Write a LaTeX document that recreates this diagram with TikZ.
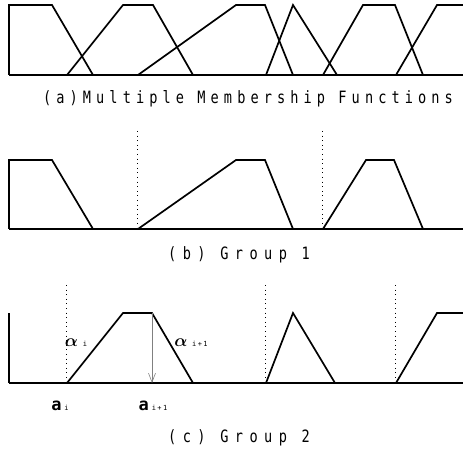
\documentclass[tikz,border=0pt]{standalone}
\usepackage{amsmath,amssymb}
\usepackage{fontspec}
\usetikzlibrary{arrows.meta}
\newfontfamily\capfontA{DejaVu Sans Mono}[FakeStretch=0.8, LetterSpace=30]
\newfontfamily\capfontB{DejaVu Sans Mono}[FakeStretch=0.8, LetterSpace=38]
\newfontfamily\labfont{DejaVu Sans Mono}[LetterSpace=20]
\begin{document}
\begin{tikzpicture}[x=1pt, y=-1pt,
  mf/.style={line width=1.7pt, line join=miter},
  axis/.style={line width=2.2pt},
  guide/.style={line width=1pt, dash pattern=on 1pt off 3.6pt},
  caption/.style={inner sep=0pt},
  greek/.style={inner sep=0pt, font=\fontsize{17}{17}\selectfont},
  lab/.style={inner sep=0pt, font=\labfont\fontsize{17}{17}\selectfont\bfseries}]
\useasboundingbox (0,0) rectangle (463,454);
% (a) all membership functions
\draw[axis] (9,75) -- (463,75);
\draw[mf] (9,75) -- (9,5) -- (52,5) -- (93,75);
\draw[mf] (67,75) -- (123,5) -- (153,5) -- (193,75);
\draw[mf] (138,75) -- (236,5) -- (265,5) -- (293,75);
\draw[mf] (266,75) -- (293,5) -- (337,75);
\draw[mf] (323,75) -- (363,5) -- (395,5) -- (423,75);
\draw[mf] (396,75) -- (437,5) -- (463,5);
\node[caption] (capa) at (248,99) {\capfontA\fontsize{17}{17}\selectfont (a)Multiple Membership Functions};
% (b) group 1
\draw[axis] (9,229) -- (463,229);
\draw[guide] (137,131) -- (137,229);
\draw[guide] (322,131) -- (322,229);
\draw[mf] (9,229) -- (9,160) -- (52,160) -- (93,229);
\draw[mf] (138,229) -- (236,160) -- (265,160) -- (293,229);
\draw[mf] (323,229) -- (366,160) -- (394,160) -- (423,229);
\node[caption] (capb) at (239,255) {\capfontB\fontsize{17}{17}\selectfont (b) Group 1};
% (c) group 2
\draw[axis] (9,383) -- (463,383);
\draw[mf] (9,383) -- (9,313);
\foreach \gx in {66,265,395}
  \draw[guide] (\gx,285) -- (\gx,383);
\draw[mf] (67,383) -- (123,313) -- (152,313) -- (193,383);
\draw[mf] (266,383) -- (293,313) -- (335,383);
\draw[mf] (396,383) -- (437,313) -- (463,313);
\coordinate (top) at (152,313);
\coordinate (foot) at (152,383);
\draw[gray, line width=0.6pt, -{Straight Barb[length=9pt,width=7pt]}] (top) -- (foot);
\node[greek] (alf1) at (76,343) {$\boldsymbol{\alpha}$\;{\labfont\fontsize{7}{7}\selectfont i}};
\node[greek] (alf2) at (191,343) {$\boldsymbol{\alpha}$\;{\labfont\fontsize{7}{7}\selectfont i+1}};
\node[lab] (ai) at (60,406) {a\,{\mdseries\fontsize{7}{7}\selectfont i}};
\node[lab] (aj) at (153,406) {a\,{\mdseries\fontsize{7}{7}\selectfont i+1}};
\node[caption] (capc) at (239,438) {\capfontB\fontsize{17}{17}\selectfont (c) Group 2};
\end{tikzpicture}
\end{document}
